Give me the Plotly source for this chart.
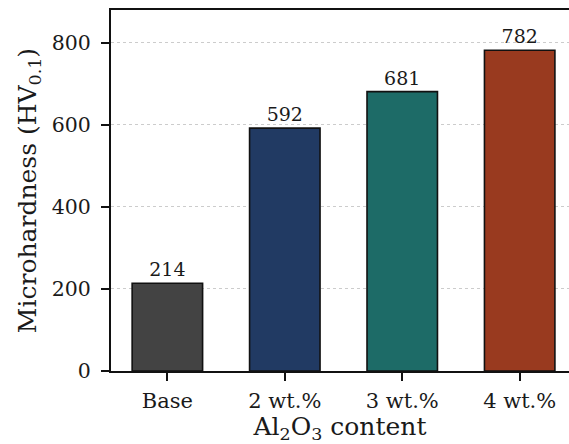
import plotly.graph_objects as go

categories = ["Base", "2 wt.%", "3 wt.%", "4 wt.%"]
values = [214, 592, 681, 782]
colors = ["#434343", "#213a63", "#1d6b67", "#993a1f"]
y_ticks = [0, 200, 400, 600, 800]

FONT = "DejaVu Serif"
TXT = "#1a1a1a"

fig = go.Figure(
    go.Bar(
        x=list(range(len(categories))),
        y=values,
        width=0.6,
        marker=dict(color=colors, line=dict(color="#111111", width=1.6)),
        text=[str(v) for v in values],
        textposition="outside",
        textfont=dict(family=FONT, size=19, color=TXT),
        cliponaxis=False,
    )
)

fig.update_layout(
    width=569,
    height=444,
    margin=dict(l=111, r=0, t=10, b=73),
    plot_bgcolor="white",
    paper_bgcolor="white",
    showlegend=False,
    font=dict(family=FONT, color=TXT),
)

fig.update_xaxes(
    range=[-0.48, 3.42],
    tickmode="array",
    tickvals=list(range(len(categories))),
    ticktext=categories,
    ticks="outside",
    ticklen=8,
    tickwidth=1.8,
    tickcolor="#111111",
    showline=True,
    linecolor="#111111",
    linewidth=2,
    mirror=True,
    showgrid=False,
    zeroline=False,
    tickfont=dict(family=FONT, size=21, color=TXT),
    ticklabelstandoff=2,
    title=dict(text="Al<sub>2</sub>O<sub>3</sub> content", font=dict(family=FONT, size=25, color=TXT), standoff=8),
)

fig.update_yaxes(
    range=[0, 880],
    tickmode="array",
    tickvals=y_ticks,
    ticks="outside",
    ticklen=8,
    tickwidth=1.8,
    tickcolor="#111111",
    showline=True,
    linecolor="#111111",
    linewidth=2,
    showgrid=True,
    gridcolor="#cccccc",
    griddash="dot",
    gridwidth=1,
    zeroline=False,
    tickfont=dict(family=FONT, size=20.5, color=TXT),
    ticklabelstandoff=6,
    title=dict(text="Microhardness (HV<sub>0.1</sub>)", font=dict(family=FONT, size=25, color=TXT), standoff=8),
)

fig.write_html("out.html")
